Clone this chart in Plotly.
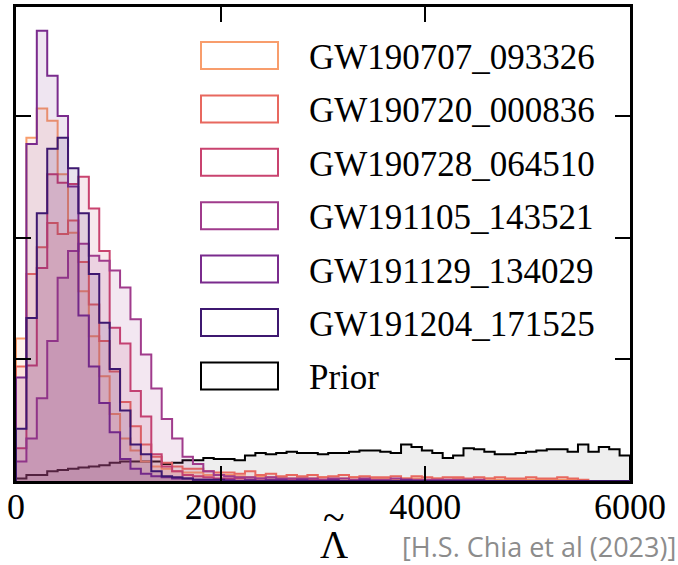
import numpy as np
import plotly.graph_objects as go

# ---------------- data ----------------
lam_min, lam_max = 0, 6000
tick_vals_x = [0, 2000, 4000, 6000]
tick_text_x = ["0", "2000", "4000", "6000"]
tick_vals_y = [1, 2, 3]

event_names = ["GW190707_093326", "GW190720_000836", "GW190728_064510",
               "GW191105_143521", "GW191129_134029", "GW191204_171525"]
event_colors = ["#f89d6c", "#e8685f", "#c9436f", "#a03b8c", "#7a2b8d", "#3e1870"]

gw190707 = [1.17, 2.82, 3.06, 2.96, 2.52, 2.04, 1.56, 1.19, 0.86, 0.55,
            0.35, 0.25, 0.16, 0.12, 0.10, 0.08, 0.07, 0.07, 0.05, 0.05,
            0.05, 0.04, 0.03, 0.04, 0.03, 0.03, 0.02, 0.03, 0.02, 0.03,
            0.02, 0.02, 0.03, 0.02, 0.02, 0.02, 0.01, 0.02, 0.02, 0.01,
            0.02, 0.01, 0.02, 0.01, 0.01, 0.02, 0.01, 0.01, 0.01, 0.01,
            0.01, 0.01, 0.01, 0.01, 0.00, 0.00, 0.00, 0.00, 0.00]
gw190720 = [0.94, 1.70, 1.92, 2.12, 2.03, 2.14, 1.80, 1.45, 1.15, 0.90,
            0.65, 0.45, 0.30, 0.20, 0.15, 0.12, 0.10, 0.10, 0.08, 0.07,
            0.07, 0.06, 0.08, 0.05, 0.06, 0.04, 0.05, 0.04, 0.05, 0.03,
            0.04, 0.05, 0.03, 0.04, 0.03, 0.03, 0.04, 0.02, 0.04, 0.03,
            0.02, 0.03, 0.03, 0.02, 0.03, 0.02, 0.03, 0.02, 0.02, 0.03,
            0.02, 0.02, 0.03, 0.02, 0.01, 0.00, 0.00, 0.00, 0.00]
gw190728 = [0.27, 0.95, 1.75, 2.52, 2.45, 2.44, 2.50, 2.24, 1.89, 1.26,
            1.13, 0.74, 0.53, 0.22, 0.12, 0.08, 0.05, 0.04, 0.03, 0.02,
            0.02, 0.02, 0.01, 0.02, 0.01, 0.01, 0.01, 0.01, 0.01, 0.01,
            0.01, 0.00, 0.00, 0.00, 0.00, 0.00, 0.00, 0.00, 0.00, 0.00,
            0.00, 0.00, 0.00, 0.00, 0.00, 0.00, 0.00, 0.00, 0.00, 0.00,
            0.00, 0.00, 0.00, 0.00, 0.00, 0.00, 0.00, 0.00, 0.00]
gw191105 = [0.16, 0.35, 0.68, 1.15, 1.67, 1.89, 1.95, 1.85, 1.81, 1.73,
            1.59, 1.33, 1.04, 0.76, 0.51, 0.35, 0.20, 0.14, 0.08, 0.05,
            0.04, 0.03, 0.03, 0.02, 0.03, 0.02, 0.02, 0.02, 0.02, 0.01,
            0.02, 0.02, 0.01, 0.02, 0.01, 0.01, 0.02, 0.01, 0.01, 0.01,
            0.01, 0.01, 0.01, 0.01, 0.01, 0.00, 0.00, 0.00, 0.00, 0.00,
            0.00, 0.00, 0.00, 0.00, 0.00, 0.00, 0.00, 0.00, 0.00]
gw191129 = [0.85, 2.77, 3.70, 3.33, 3.00, 2.42, 1.36, 0.94, 0.64, 0.40,
            0.18, 0.10, 0.06, 0.04, 0.03, 0.02, 0.02, 0.01, 0.01, 0.01,
            0.01, 0.00, 0.01, 0.00, 0.01, 0.01, 0.00, 0.01, 0.00, 0.00,
            0.01, 0.00, 0.00, 0.01, 0.00, 0.00, 0.00, 0.01, 0.00, 0.00,
            0.00, 0.00, 0.00, 0.00, 0.00, 0.00, 0.00, 0.00, 0.00, 0.00,
            0.00, 0.00, 0.00, 0.00, 0.00, 0.00, 0.00, 0.00, 0.00]
gw191204 = [0.43, 1.34, 2.20, 2.73, 2.82, 2.57, 2.20, 1.70, 1.30, 0.92,
            0.58, 0.30, 0.22, 0.08, 0.04, 0.03, 0.02, 0.01, 0.01, 0.01,
            0.00, 0.00, 0.00, 0.00, 0.00, 0.00, 0.00, 0.00, 0.00, 0.00,
            0.00, 0.00, 0.00, 0.00, 0.00, 0.00, 0.00, 0.00, 0.00, 0.00,
            0.00, 0.00, 0.00, 0.00, 0.00, 0.00, 0.00, 0.00, 0.00, 0.00,
            0.00, 0.00, 0.00, 0.00, 0.00, 0.00, 0.00, 0.00, 0.00]
prior = [0.02, 0.05, 0.05, 0.08, 0.09, 0.10, 0.11, 0.12, 0.13, 0.15,
         0.16, 0.16, 0.16, 0.16, 0.14, 0.15, 0.17, 0.17, 0.19, 0.18,
         0.18, 0.17, 0.21, 0.23, 0.22, 0.23, 0.24, 0.23, 0.23, 0.22,
         0.23, 0.23, 0.24, 0.25, 0.25, 0.24, 0.23, 0.30, 0.28, 0.25,
         0.23, 0.19, 0.21, 0.27, 0.26, 0.24, 0.22, 0.22, 0.23, 0.24,
         0.25, 0.26, 0.26, 0.24, 0.30, 0.24, 0.28, 0.26, 0.21]
prior_name = "Prior"
x_label = "Λ"
x_label_accent = "~"
citation = "[H.S. Chia et al (2023)]"

series = [gw190707, gw190720, gw190728, gw191105, gw191129, gw191204]

# ---------------- figure ----------------
W, H = 678, 565
M_L, M_R, M_T, M_B = 16, 48, 7, 84
PW, PH = W - M_L - M_R, H - M_T - M_B

edges = np.linspace(lam_min, lam_max, len(prior) + 1)


def step_xy(vals):
    xs = [edges[0]] + list(edges[:-1]) + [edges[-1], edges[-1]]
    ys = [0] + list(vals) + [vals[-1], 0]
    return xs, ys


def rgba(hexc, a):
    h = hexc.lstrip("#")
    r, g, b = int(h[0:2], 16), int(h[2:4], 16), int(h[4:6], 16)
    return f"rgba({r},{g},{b},{a})"


fig = go.Figure()

xs, ys = step_xy(prior)
fig.add_trace(go.Scatter(x=xs, y=ys, mode="lines", line=dict(color="black", width=2, shape="hv"),
                         fill="tozeroy", fillcolor="rgba(200,200,200,0.3)", name=prior_name,
                         showlegend=False, hoverinfo="skip"))

for name, col, vals in zip(event_names, event_colors, series):
    xs, ys = step_xy(vals)
    fig.add_trace(go.Scatter(x=xs, y=ys, mode="lines", line=dict(color=col, width=2, shape="hv"),
                             fill="tozeroy", fillcolor=rgba(col, 0.12), name=name,
                             showlegend=False, hoverinfo="skip"))


def px_x(p):
    return (p - M_L) / PW


def px_y(p):
    return (H - M_B - p) / PH


# manual legend (outlined patches)
shapes = []
annotations = []
leg_names = event_names + [prior_name]
leg_colors = event_colors + ["#000000"]
for i, (nm, col) in enumerate(zip(leg_names, leg_colors)):
    cy = 55.5 + 53.4 * i
    shapes.append(dict(type="rect", xref="paper", yref="paper",
                       x0=px_x(201), x1=px_x(278), y0=px_y(cy + 13.5), y1=px_y(cy - 13.5),
                       line=dict(color=col, width=2), fillcolor="white", layer="above"))
    annotations.append(dict(xref="paper", yref="paper", x=px_x(307), y=px_y(cy + 2),
                            text=nm, showarrow=False, xanchor="left", yanchor="middle",
                            font=dict(family="Liberation Serif", size=35, color="black")))

annotations.append(dict(xref="paper", yref="paper", x=px_x(334), y=px_y(544),
                        text=x_label, showarrow=False, xanchor="center", yanchor="middle",
                        height=34, borderpad=0,
                        font=dict(family="Liberation Serif", size=39, color="black")))
annotations.append(dict(xref="paper", yref="paper", x=px_x(334), y=px_y(517),
                        text=x_label_accent, showarrow=False, xanchor="center", yanchor="middle",
                        height=12, borderpad=0,
                        font=dict(family="Liberation Serif", size=40, color="black")))
annotations.append(dict(xref="paper", yref="paper", x=px_x(677), y=px_y(546),
                        text=citation, showarrow=False, xanchor="right",
                        yanchor="middle", borderpad=0,
                        font=dict(family="Open Sans", size=27, color="#8c8c8c")))

fig.update_layout(
    width=W, height=H,
    margin=dict(l=M_L, r=M_R, t=M_T, b=M_B, autoexpand=False),
    paper_bgcolor="white", plot_bgcolor="white",
    showlegend=False,
    shapes=shapes, annotations=annotations,
    xaxis=dict(range=[lam_min, lam_max], tickvals=tick_vals_x, ticktext=tick_text_x,
               ticks="inside", ticklen=15, tickwidth=1.5, tickcolor="black",
               showline=True, linewidth=3, linecolor="black", mirror="ticks",
               showgrid=False, zeroline=False, automargin=False,
               ticklabelstandoff=-8,
               tickfont=dict(family="Liberation Serif", size=36, color="black")),
    yaxis=dict(range=[0, 3.895], tickvals=tick_vals_y, showticklabels=False,
               ticks="inside", ticklen=15, tickwidth=1.5, tickcolor="black",
               showline=True, linewidth=3, linecolor="black", mirror="ticks",
               showgrid=False, zeroline=False, automargin=False),
)

fig.write_html("out.html", config={"displayModeBar": False},
               post_script="document.body.style.margin='0';")
